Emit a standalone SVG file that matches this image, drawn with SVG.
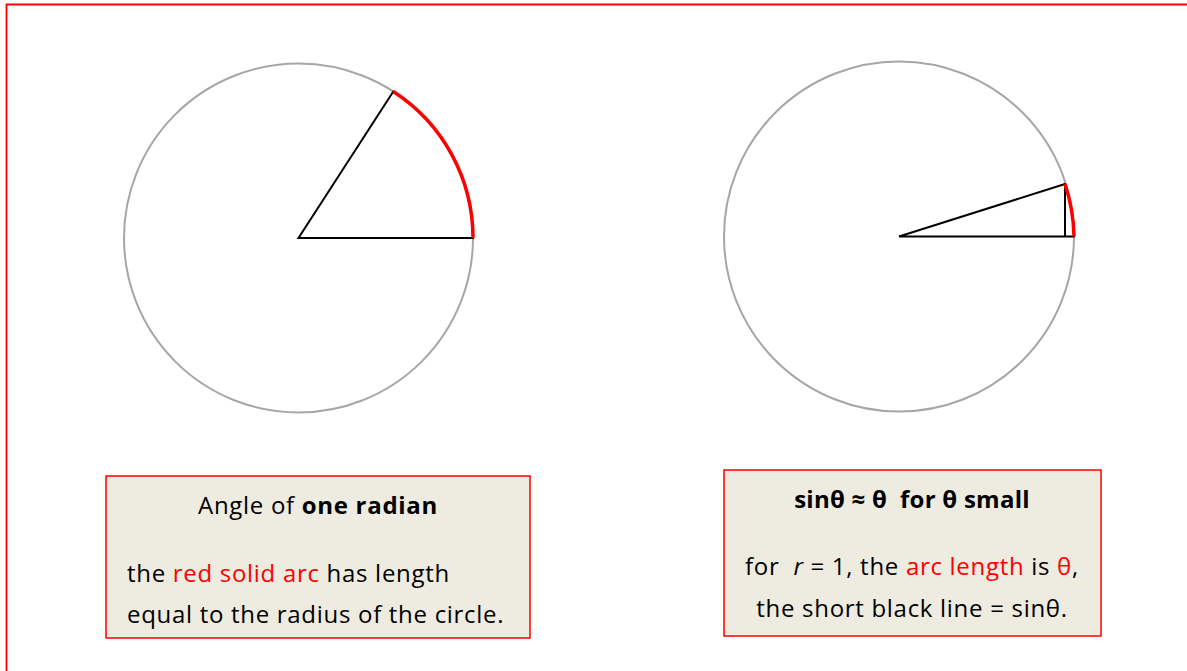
<svg xmlns="http://www.w3.org/2000/svg" width="1187" height="671" viewBox="0 0 1187 671">
<style>
.circ{fill:none;stroke:#a6a6a6;stroke-width:2}
.blk{fill:none;stroke:#000;stroke-width:2;stroke-linecap:round}
.red{fill:none;stroke:#ff0000;stroke-width:3.5}
.box{fill:#eeebe1;stroke:#ff0000;stroke-width:1.5}
text{font-family:"Open Sans","Liberation Sans",sans-serif;font-size:24px;letter-spacing:0.7px;fill:#000}
.b{font-weight:bold}
.t{letter-spacing:0.25px}
.r{fill:#ff0000}
</style>
<rect width="1187" height="671" fill="#fff"/>
<path d="M6.5,671 V4.5 H1187" fill="none" stroke="#ff0000" stroke-width="1.8"/>
<g id="left-circle">
<circle class="circ" cx="298.5" cy="238" r="174.5"/>
<path class="blk" d="M393.3,91.5 L298.5,238 H473"/>
<path class="red" d="M393.3,91.5 A174.5,174.5 0 0 1 473,238"/>
</g>
<g id="right-circle">
<circle class="circ" cx="899" cy="236.5" r="175"/>
<path class="blk" d="M1065,184 L899,236.5 H1074 M1065,184 V236.5"/>
<path class="red" d="M1065,184 A175,175 0 0 1 1074,236.5"/>
</g>
<g id="left-box">
<rect class="box" x="106" y="476" width="424" height="162"/>
<text x="318" y="514" text-anchor="middle">Angle of <tspan class="b">one radian</tspan></text>
<text x="127" y="582">the <tspan class="r">red solid arc</tspan> has length</text>
<text x="127" y="623">equal to the radius of the circle.</text>
</g>
<g id="right-box">
<rect class="box" x="724" y="470" width="377" height="166"/>
<text x="912" y="508" text-anchor="middle" class="b t" xml:space="preserve">sinθ ≈ θ  for θ small</text>
<text x="912" y="575" text-anchor="middle" xml:space="preserve">for  <tspan font-style="italic">r</tspan> = 1, the <tspan class="r">arc length</tspan> is <tspan class="r">θ</tspan>,</text>
<text x="912" y="617" text-anchor="middle">the short black line = sinθ.</text>
</g>
</svg>
